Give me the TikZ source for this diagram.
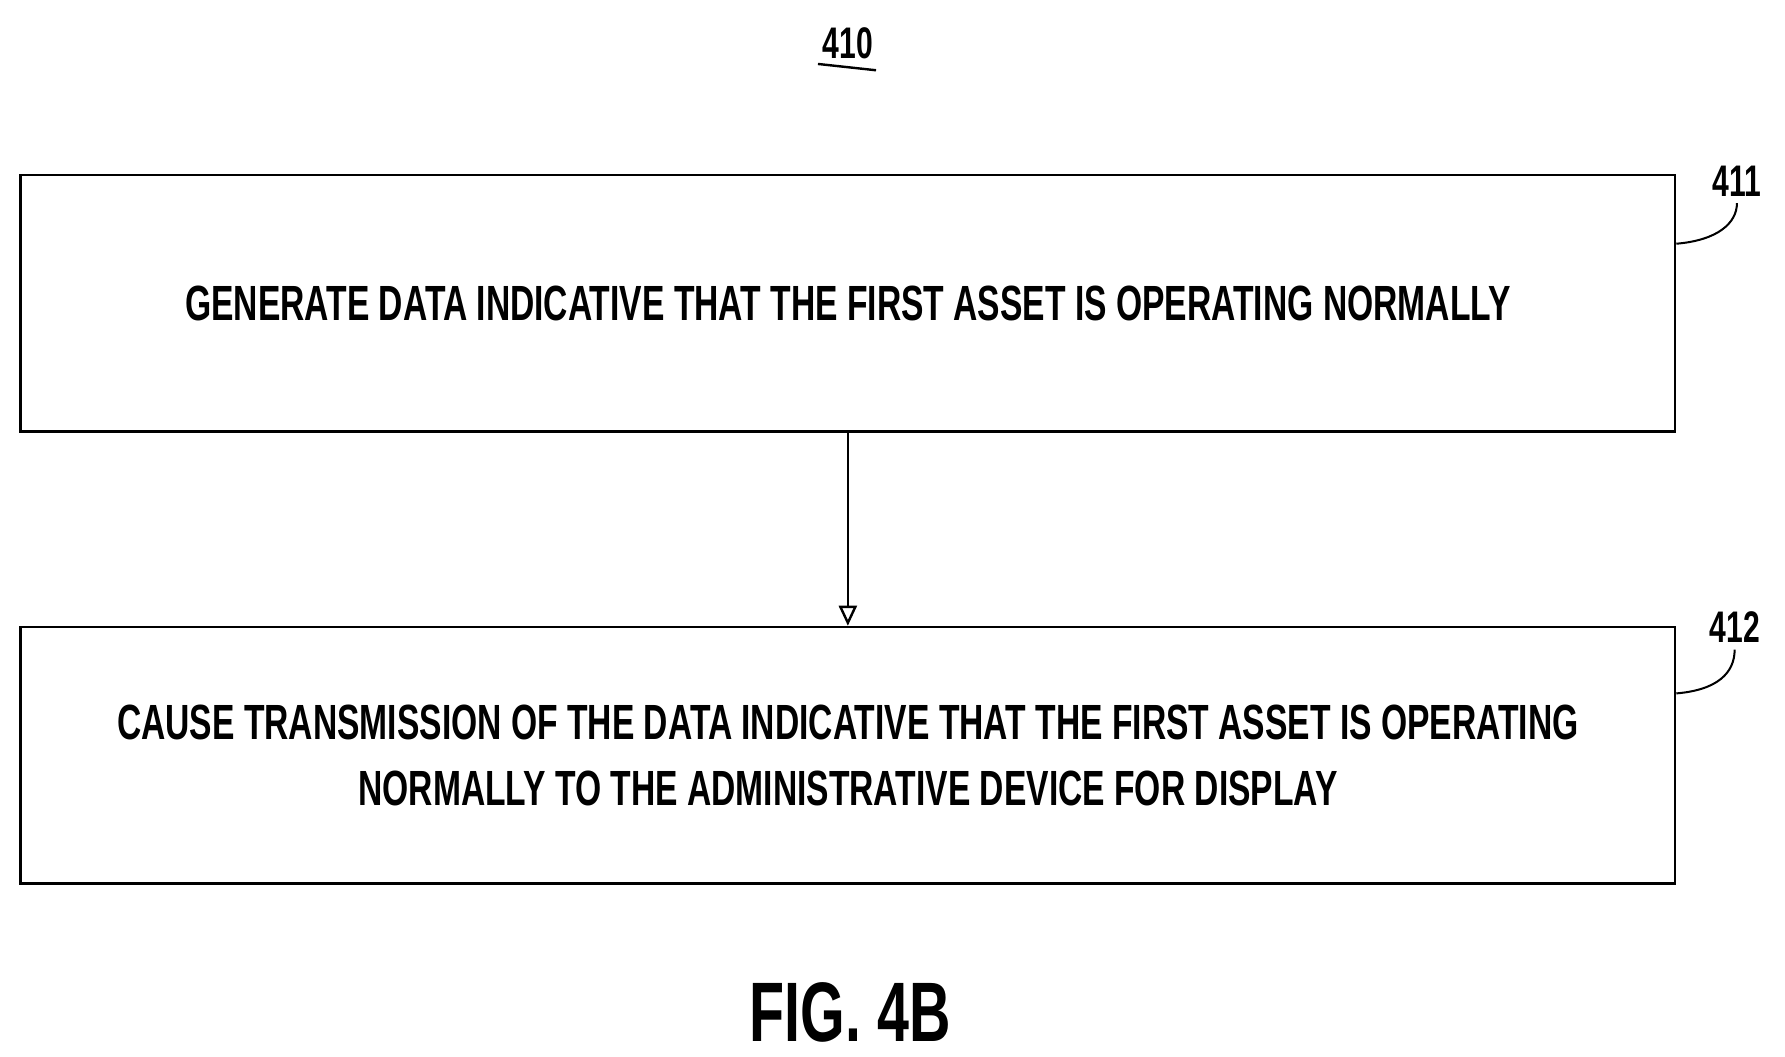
\documentclass[tikz,border=0pt]{standalone}
\usepackage{fontspec}
\setmainfont{Liberation Sans}[FakeStretch=0.68]
\usetikzlibrary{arrows.meta}
\begin{document}
\begin{tikzpicture}[x=0.02cm,y=-0.02cm,
  stepbox/.style = {rectangle,draw=black,line width=1.3pt,minimum width=28.92cm,minimum height=4.48cm,align=center,font=\bfseries\fontsize{24.6}{33}\selectfont},
  reflabel/.style = {font=\bfseries\fontsize{22}{22}\selectfont}]
\useasboundingbox (0,0) rectangle (1560,923);
\node[reflabel] (title) at (741,38) {410};
\draw[line width=1.2pt] (title.south west) ++(2,-2) -- ([xshift=-2pt,yshift=-2pt]title.south east);
\node[stepbox] (generate) at (741,265) {GENERATE DATA INDICATIVE THAT THE FIRST ASSET IS OPERATING NORMALLY};
\node[stepbox] (transmit) at (741,660) {CAUSE TRANSMISSION OF THE DATA INDICATIVE THAT THE FIRST ASSET IS OPERATING\\NORMALLY TO THE ADMINISTRATIVE DEVICE FOR DISPLAY};
\draw[line width=1.2pt,-{Triangle[open,length=10pt,width=9pt]}] (generate) -- (transmit);
\node[reflabel] (n411) at (1518,158) {411};
\node[reflabel] (n412) at (1516,548) {412};
\draw[line width=1pt] (generate.east |- 0,213) .. controls (1501,210) and (1518,195) .. (n411.south);
\draw[line width=1pt] (transmit.east |- 0,606) .. controls (1501,603) and (1516,588) .. (n412.south);
\node[font=\bfseries\fontsize{42}{42}\selectfont] (fig) at (743,885) {FIG. 4B};
\end{tikzpicture}
\end{document}
